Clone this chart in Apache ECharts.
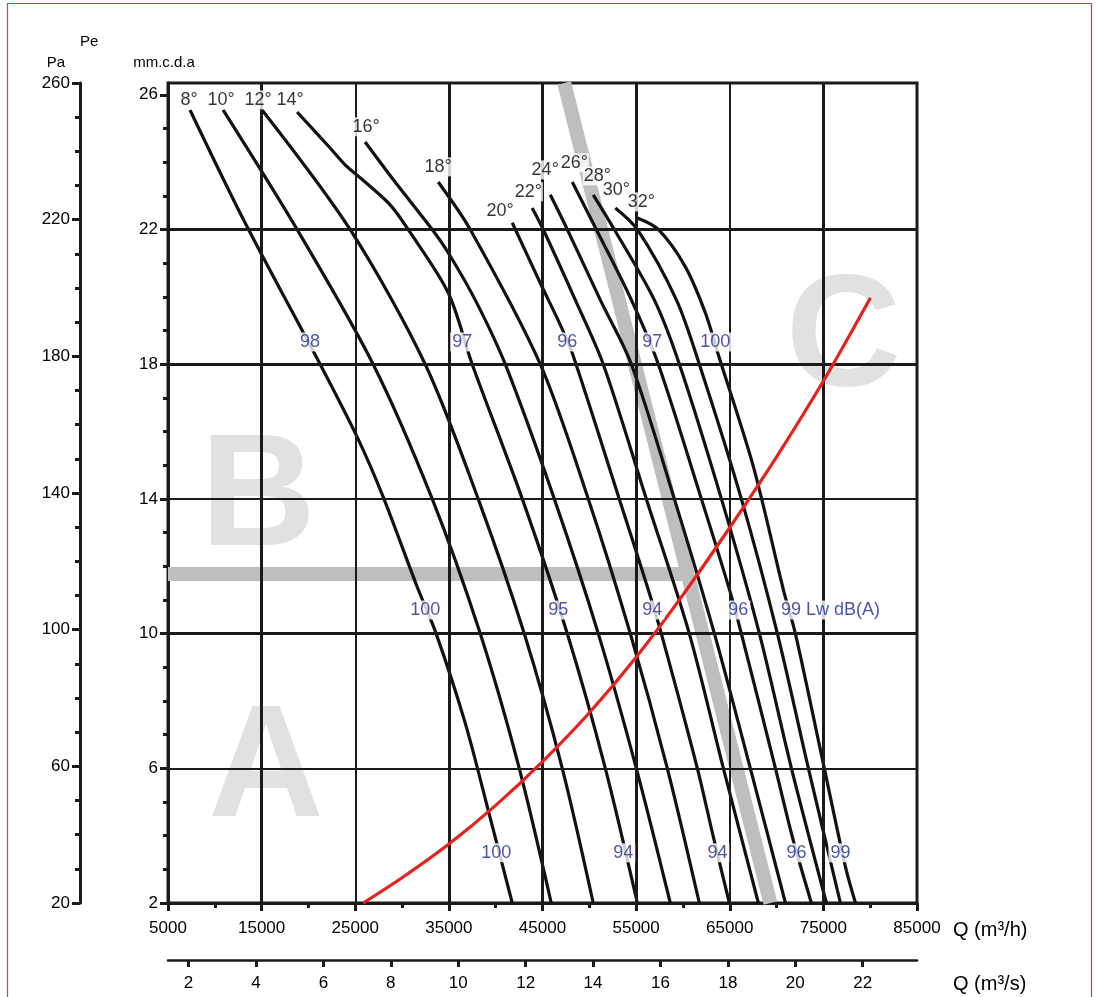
<!DOCTYPE html>
<html><head><meta charset="utf-8">
<script src="https://cdn.jsdelivr.net/npm/echarts@6/dist/echarts.min.js"></script>
<style>html,body{margin:0;padding:0;background:#fff}#c{width:1096px;height:997px}</style>
</head><body><div id="c"></div>
<script>
// ---------- tick labels ----------
const qhTicks = [5000,15000,25000,35000,45000,55000,65000,75000,85000];
const qhMinor = [10000,20000,30000,40000,50000,60000,70000,80000];
const qsTicks = [2,4,6,8,10,12,14,16,18,20,22];
const mmTicks = [2,6,10,14,18,22,26];
const paTicks = [20,60,100,140,180,220,260];
const gridX = [15000,25000,35000,45000,55000,65000,75000];
const gridY = [6,10,14,18,22];
const thinGridX = [25000,65000];
const thinGridY = [6,14];

// ---------- fan curves: [Q m3/h, Pe mm.c.d.a] ----------
const angleNames = ['8°','10°','12°','14°','16°','18°','20°','22°','24°','26°','28°','30°','32°'];
const curve08 = [[7350,25.55],[13230,22.2],[21250,18.0],[25200,15.84],[27980,14.06],[31610,11.39],[33640,10.0],[36740,7.35],[39200,4.76],[41770,2.0]];
const curve10 = [[10880,25.55],[18790,22.0],[26910,18.0],[33220,14.0],[38350,10.0],[42515,6.0],[45935,2.0]];
const curve12 = [[15050,25.55],[24450,22.0],[32470,18.0],[38130,14.0],[43050,10.0],[47110,6.0],[50420,2.0]];
const curve14 = [[18790,25.49],[22315,24.42],[23920,23.92],[26055,23.41],[28730,22.73],[30650,22.0],[34930,20.12],[37490,18.0],[42840,14.0],[47645,10.0],[51710,6.0],[55130,2.0]];
const curve16 = [[26055,24.60],[29260,23.41],[33220,22.0],[34930,21.31],[37810,19.91],[41020,18.0],[46260,14.0],[50960,10.0],[55020,6.0],[58650,2.0]];
const curve18 = [[33860,23.41],[37280,22.0],[44760,18.0],[49890,14.0],[54380,10.0],[58330,6.0],[61750,2.0]];
const curve20 = [[41770,22.20],[44760,20.41],[46900,19.17],[48180,18.33],[53200,14.0],[56300,11.30],[57690,10.0],[61540,6.0],[63250,3.96],[64960,2.0]];
const curve22 = [[43900,22.64],[45080,22.0],[48500,19.91],[51490,18.0],[56090,14.0],[60680,10.0],[64320,6.0],[68060,2.0]];
const curve24 = [[45830,23.03],[47650,22.0],[51170,19.91],[54490,18.0],[59080,14.0],[63360,10.0],[67200,6.0],[70950,2.0]];
const curve26 = [[48180,23.41],[50750,22.0],[54490,19.91],[57370,18.0],[61970,14.0],[65070,11.21],[66240,10.0],[69880,6.0],[71690,3.96],[73720,2.0]];
const curve28 = [[50420,23.03],[52670,22.0],[56940,19.91],[59620,18.0],[64110,14.0],[68170,10.0],[71590,6.0],[75330,2.0]];
const curve30 = [[52780,22.64],[55130,22.0],[59300,19.91],[61750,18.0],[66240,14.0],[70090,10.0],[73400,6.0],[76820,2.0]];
const curve32 = [[55130,22.34],[57370,22.0],[60260,20.89],[62400,19.52],[63780,18.28],[67530,14.95],[70730,11.30],[72010,10.0],[74690,6.54],[77360,3.07],[78430,2.0]];
const curves = [curve08,curve10,curve12,curve14,curve16,curve18,curve20,curve22,curve24,curve26,curve28,curve30,curve32];

// angle label anchors [Q, mm]
const angleLabelAt = [[7245,25.85],[10665,25.85],[14620,25.85],[18040,25.85],[26160,25.05],[33860,23.86],[40480,22.55],[43480,23.12],[45290,23.77],[48390,23.98],[50850,23.59],[52880,23.18],[55550,22.82]];

// system curve (red)
const systemCurve = [[25840,2.0],[30000,2.75],[35000,3.75],[40000,4.9],[45000,6.2],[50000,7.65],[55000,9.3],[60000,11.15],[65000,13.15],[70000,15.25],[75000,17.5],[80030,19.97]];

// zone boundaries (grey bands)
const zoneDiagonal = [[47320,26.35],[69340,2.0]];
const zoneHorizontal = [[5000,11.77],[60500,11.77]];
const zoneLetters = [['A',15470,5.89],['B',14620,13.94],['C',77140,18.69]];

// sound power labels Lw dB(A): [text, Q, mm]
const noiseLabels = [
  ['98',20180,18.66],['97',36420,18.66],['96',47650,18.66],['97',56730,18.66],['100',63460,18.66],
  ['100',32470,10.70],['95',46680,10.70],['94',56730,10.70],['96',65920,10.70],['99 Lw dB(A)',70200,10.70],
  ['100',40060,3.49],['94',53630,3.49],['94',63680,3.49],['96',72120,3.49],['99',76820,3.49]
];

const FF = '"Liberation Sans", Arial, sans-serif';
const FS = 17;
const FSB = 18;
const INK = '#1a1a1a';
const TXT = '#000';

const chart = echarts.init(document.getElementById('c'), null, {renderer:'canvas'});
const tickStyle = w => ({color:INK, width:w});
const noLabel = {show:false};

const series = [];
series.push({
  type:'scatter', z:1, silent:true, symbolSize:1, itemStyle:{color:'rgba(0,0,0,0)'},
  data: zoneLetters.map(d=>({name:d[0], value:[d[1],d[2]]})),
  label:{show:true, position:'inside', formatter:'{b}', fontSize:160, fontWeight:'bold', fontFamily:'"Liberation Sans", Arial', color:'#d9dadc'}
});
series.push({type:'line', z:2, silent:true, symbol:'none', data:zoneDiagonal, lineStyle:{color:'#bdbec0', width:14, cap:'butt'}});
series.push({type:'line', z:2, silent:true, symbol:'none', data:zoneHorizontal, lineStyle:{color:'#bdbec0', width:14, cap:'butt'}});
series.push({
  type:'line', z:3, silent:true, symbol:'none', data:[],
  markLine:{silent:true, symbol:['none','none'], label:{show:false}, animation:false,
    lineStyle:{color:INK, type:'solid'},
    data: gridX.map(v=>({xAxis:v, lineStyle:{color:INK, type:'solid', width: thinGridX.includes(v)?2:3}}))
      .concat(gridY.map(v=>({yAxis:v, lineStyle:{color:INK, type:'solid', width: thinGridY.includes(v)?2:3}})))
  }
});
curves.forEach((c,i)=>series.push({
  type:'line', name:angleNames[i], z:4, silent:true, symbol:'none', smooth:0.3,
  data:c, lineStyle:{color:'#111', width:3.2}
}));
series.push({type:'line', z:5, silent:true, symbol:'none', smooth:0.3, data:systemCurve, lineStyle:{color:'#e8211d', width:3.2}});
series.push({
  type:'scatter', z:6, silent:true, symbolSize:1, itemStyle:{color:'rgba(0,0,0,0)'},
  data: angleLabelAt.map((d,i)=>({name:angleNames[i], value:d})),
  label:{show:true, position:'inside', formatter:'{b}', fontSize:18, fontFamily:FF, color:TXT, backgroundColor:'#fff', padding:[1,1,0,1]}
});
series.push({
  type:'scatter', z:6, silent:true, symbolSize:1, itemStyle:{color:'rgba(0,0,0,0)'},
  data: noiseLabels.map(d=>({name:d[0], value:[d[1],d[2]], label: d[0].length>3 ? {position:'right', distance:0} : {}})),
  label:{show:true, position:'inside', formatter:'{b}', fontSize:FSB, fontFamily:FF, color:'#1f2a8c', backgroundColor:'#fff', padding:[1,2,0,2]}
});

const option = {
  animation:false,
  backgroundColor:'#fff',
  textStyle:{fontFamily:FF},
  grid:{left:168, right:179, top:83, bottom:94, show:true, borderColor:INK, borderWidth:3, backgroundColor:'transparent'},
  graphic:[
    {type:'rect', shape:{x:7.5,y:3.5,width:1084,height:1010}, style:{fill:'none', stroke:'#e53a3a', lineWidth:1.2}, z:0, silent:true},
    {type:'text', left:80, top:34, style:{text:'Pe', font:'15px '+FF, fill:TXT}, silent:true}
  ],
  xAxis:[
    {type:'value', min:5000, max:85000, position:'bottom',
     axisLine:{show:true, lineStyle:tickStyle(3)},
     axisTick:{show:true, length:8, lineStyle:tickStyle(3), customValues:qhTicks},
     axisLabel:{customValues:qhTicks, margin:17, fontSize:FS, fontFamily:FF, color:TXT, formatter:v=>String(v)},
     splitLine:{show:false},
     name:'Q (m³/h)', nameLocation:'end', nameGap:36,
     nameTextStyle:{fontSize:20, fontFamily:FF, color:TXT, verticalAlign:'top', padding:[17,0,0,0]}},
    {type:'value', min:5000, max:85000, position:'bottom',
     axisLine:{show:false}, axisTick:{show:true, length:5, lineStyle:tickStyle(3), customValues:qhMinor},
     axisLabel:noLabel, splitLine:{show:false}},
    {type:'value', min:5000/3600, max:85000/3600, position:'bottom', offset:57,
     axisLine:{show:true, lineStyle:tickStyle(2.5)},
     axisTick:{show:true, length:7, lineStyle:tickStyle(3), customValues:qsTicks},
     axisLabel:{customValues:qsTicks, margin:15, fontSize:FS, fontFamily:FF, color:TXT},
     splitLine:{show:false},
     name:'Q (m³/s)', nameLocation:'end', nameGap:36,
     nameTextStyle:{fontSize:20, fontFamily:FF, color:TXT, verticalAlign:'top', padding:[14,0,0,0]}}
  ],
  yAxis:[
    {type:'value', min:2, max:26.35, position:'left',
     axisLine:{show:true, lineStyle:tickStyle(3)},
     axisTick:{show:true, length:8, lineStyle:tickStyle(3), customValues:mmTicks},
     axisLabel:{customValues:mmTicks, margin:10, fontSize:FS, fontFamily:FF, color:TXT},
     splitLine:{show:false},
     name:'mm.c.d.a', nameLocation:'end', nameGap:13,
     nameTextStyle:{fontSize:15, fontFamily:FF, color:TXT, padding:[0,8,0,0]}},
    {type:'value', min:2, max:26.35, position:'left',
     axisLine:{show:false},
     axisTick:{show:true, length:5, lineStyle:tickStyle(3), customValues:Array.from({length:24},(_,i)=>i+3).filter(v=>!mmTicks.includes(v))},
     axisLabel:noLabel, splitLine:{show:false}},
    {type:'value', min:20, max:260, position:'left', offset:88,
     axisLine:{show:true, lineStyle:tickStyle(3)},
     axisTick:{show:true, length:8, lineStyle:tickStyle(3), customValues:paTicks},
     axisLabel:{customValues:paTicks, margin:10, fontSize:FS, fontFamily:FF, color:TXT},
     splitLine:{show:false},
     name:'Pa', nameLocation:'end', nameGap:13,
     nameTextStyle:{fontSize:15, fontFamily:FF, color:TXT, align:'right', padding:[0,15,0,0]}},
    {type:'value', min:20, max:260, position:'left', offset:88,
     axisLine:{show:false},
     axisTick:{show:true, length:5, lineStyle:tickStyle(3), customValues:Array.from({length:25},(_,i)=>20+i*10).filter(v=>!paTicks.includes(v))},
     axisLabel:noLabel, splitLine:{show:false}}
  ],
  series: series.map(s=>Object.assign({xAxisIndex:0, yAxisIndex:0, animation:false}, s))
};
chart.setOption(option);
</script>
</body></html>
